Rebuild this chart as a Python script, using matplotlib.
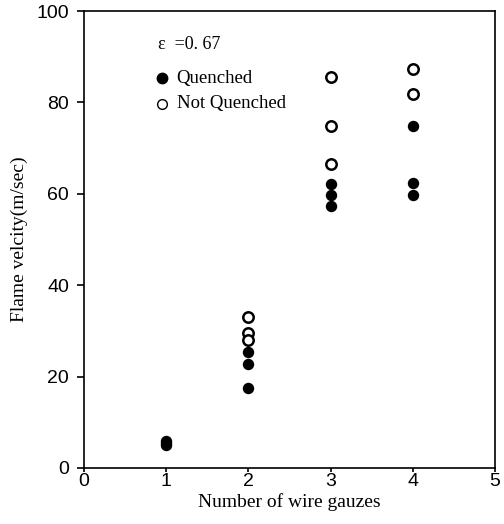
import matplotlib.pyplot as plt

# data
x_q = [1, 1, 1, 2, 2, 2, 3, 3, 3, 4, 4, 4]
y_q = [5.0, 5.5, 6.0, 25.3, 22.8, 17.4, 62.2, 59.8, 57.3, 74.8, 62.4, 59.7]
x_nq = [2, 2, 2, 3, 3, 3, 4, 4]
y_nq = [33.0, 29.6, 28.1, 85.6, 74.8, 66.5, 87.2, 81.9]
xticks = [0, 1, 2, 3, 4, 5]
yticks = [0, 20, 40, 60, 80, 100]

fig = plt.figure(figsize=(5.04, 5.24), dpi=100)
ax = fig.add_axes([0.167, 0.107, 0.815, 0.872])

ax.plot(x_q, y_q, 'o', color='black', ms=7.2, ls='none')
ax.plot(x_nq, y_nq, 'o', mfc='white', mec='black', mew=1.8, ms=7.5, ls='none')

ax.set_xlim(0, 5)
ax.set_ylim(0, 100)
ax.set_xticks(xticks)
ax.set_yticks(yticks)
ax.tick_params(labelsize=14, direction='out', width=1.2)
ax.tick_params(axis='x', length=3, pad=1)
ax.tick_params(axis='y', length=5, pad=6)
for lab in ax.get_xticklabels() + ax.get_yticklabels():
    lab.set_family('Liberation Sans')
for sp in ax.spines.values():
    sp.set_linewidth(1.2)

ax.set_xlabel('Number of wire gauzes', family='Liberation Serif', fontsize=14, labelpad=2)
ax.set_ylabel('Flame velcity(m/sec)', family='Liberation Serif', fontsize=14, labelpad=6)

# in-plot legend
ax.text(0.18, 0.926, '\u03b5  =0. 67', transform=ax.transAxes, family='Liberation Serif',
        fontsize=13, va='center')
ax.plot([0.19], [0.853], 'o', color='black', ms=7.5, transform=ax.transAxes)
ax.text(0.225, 0.853, 'Quenched', transform=ax.transAxes, family='Liberation Serif',
        fontsize=13.5, va='center')
ax.plot([0.19], [0.797], 'o', mfc='white', mec='black', mew=1.0, ms=7, transform=ax.transAxes)
ax.text(0.225, 0.797, 'Not Quenched', transform=ax.transAxes, family='Liberation Serif',
        fontsize=13.5, va='center')

fig.savefig('out.png', dpi=100)
